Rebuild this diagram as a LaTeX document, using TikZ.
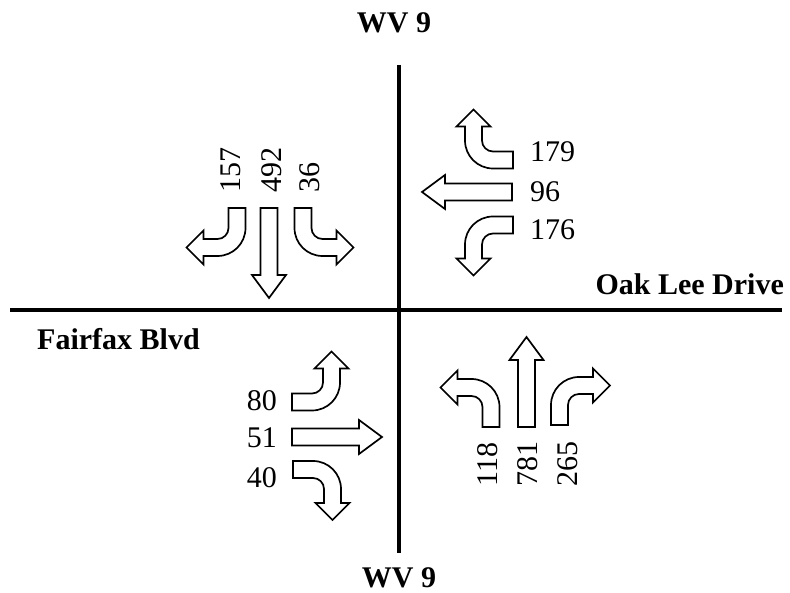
\documentclass[tikz,border=0pt]{standalone}
\usepackage{fontspec}
\setmainfont{Liberation Serif}
\tikzset{
  road/.style={line width=3.5pt},
  arrowbox/.style={draw=black, fill=white, line width=1.7pt, line join=miter},
  num/.style={inner sep=0pt, font=\fontsize{30}{31}\selectfont},
  vnum/.style={num, rotate=90, anchor=base west},
  roadname/.style={inner sep=0pt, font=\bfseries\fontsize{30}{31}\selectfont}
}
% turning arrow: #1 start point, #2 forward vector, #3 turn-side vector
\newcommand\TurnArrow[3]{%
  \draw[arrowbox, cm={#2,#3,(#1)}]
    (0,-8.5) -- (20,-8.5) .. controls (35.46,-8.5) and (48,4.04) .. (48,19.5)
    -- (48,33.5) -- (56.5,33.5) -- (39.5,50.5) -- (22.5,33.5) -- (31,33.5)
    -- (31,19.5) .. controls (31,13.42) and (26.08,8.5) .. (20,8.5)
    -- (0,8.5) -- cycle;}
% straight arrow: #1 start point, #2 forward vector, #3 side vector
\newcommand\StrArrow[3]{%
  \draw[arrowbox, cm={#2,#3,(#1)}]
    (0,-8.5) -- (67,-8.5) -- (67,-17) -- (90,0) -- (67,17) -- (67,8.5)
    -- (0,8.5) -- cycle;}
\begin{document}
\begin{tikzpicture}[x=1pt,y=1pt]
\useasboundingbox (0,0) rectangle (790,-593);
% roads
\draw[road] (399,-65) -- (399,-553);
\draw[road] (10,-310) -- (782,-310);
% road names
\node[roadname, anchor=base] (wvtop) at (394,-33) {WV 9};
\node[roadname, anchor=base] (wvbot) at (399,-587) {WV 9};
\node[roadname, anchor=base east] (oak) at (784,-295) {Oak Lee Drive};
\node[roadname, anchor=base west] (fair) at (37,-350) {Fairfax Blvd};
% north-west approach (southbound)
\TurnArrow{237,-208}{0,-1}{-1,0}
\StrArrow{269,-208}{0,-1}{1,0}
\TurnArrow{303,-208}{0,-1}{1,0}
\node[vnum] (n157) at (240,-193) {157};
\node[vnum] (n492) at (281,-193) {492};
\node[vnum] (n36) at (319,-193) {36};
% north-east approach (westbound)
\TurnArrow{513,-160}{-1,0}{0,1}
\StrArrow{512,-192}{-1,0}{0,1}
\TurnArrow{513,-225}{-1,0}{0,-1}
\node[num, anchor=base west] (n179) at (530,-162) {179};
\node[num, anchor=base west] (n96) at (530,-202) {96};
\node[num, anchor=base west] (n176) at (530,-240) {176};
% south-west approach (eastbound)
\TurnArrow{292,-402}{1,0}{0,1}
\StrArrow{292,-437}{1,0}{0,1}
\TurnArrow{293,-469.5}{1,0}{0,-1}
\node[num, anchor=base east] (n80) at (277,-410) {80};
\node[num, anchor=base east] (n51) at (277,-448) {51};
\node[num, anchor=base east] (n40) at (277,-487) {40};
% south-east approach (northbound)
\TurnArrow{491,-427}{0,1}{-1,0}
\StrArrow{526.5,-427}{0,1}{1,0}
\TurnArrow{559.5,-425}{0,1}{1,0}
\node[vnum] (n118) at (497,-487) {118};
\node[vnum] (n781) at (537,-487) {781};
\node[vnum] (n265) at (577,-487) {265};
\end{tikzpicture}
\end{document}
